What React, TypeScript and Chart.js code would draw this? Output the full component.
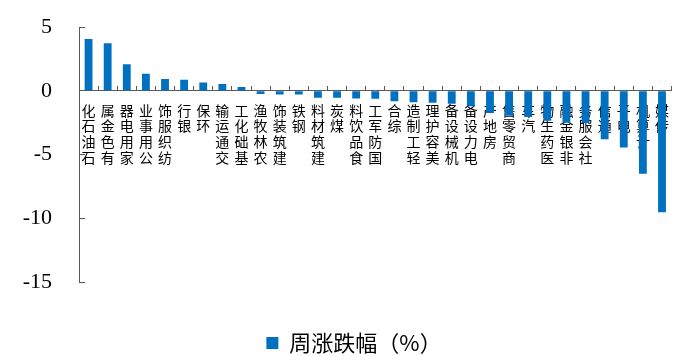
import React, { useEffect, useRef } from "react";
import { Chart, registerables } from "chart.js";

Chart.register(...registerables);

const categories: string[] = [
  "石油石化", "有色金属", "家用电器", "公用事业", "纺织服饰", "银行", "环保", "交通运输",
  "基础化工", "农林牧渔", "建筑装饰", "钢铁", "建筑材料", "煤炭", "食品饮料", "国防军工",
  "综合", "轻工制造", "美容护理", "机械设备", "电力设备", "房地产", "商贸零售", "汽车",
  "医药生物", "非银金融", "社会服务", "通信", "电子", "计算机", "传媒",
];

const weeklyChange: number[] = [
  4.06, 3.72, 2.08, 1.33, 0.93, 0.86, 0.65, 0.53,
  0.3, -0.25, -0.29, -0.29, -0.55, -0.55, -0.6, -0.63,
  -0.83, -0.9, -0.95, -1.01, -1.22, -1.74, -1.97, -2.06,
  -2.35, -2.5, -2.52, -3.8, -4.46, -6.5, -9.53,
];

const seriesName = "周涨跌幅（%）";
const yTicks: number[] = [5, 0, -5, -10, -15];

const BLUE = "#0070C0";
const AXIS = "#595959";

export default function App() {
  const ref = useRef<HTMLCanvasElement | null>(null);

  useEffect(() => {
    if (!ref.current) return;
    const chart = new Chart(ref.current, {
      type: "bar",
      data: {
        labels: categories,
        datasets: [
          {
            label: seriesName,
            data: weeklyChange,
            backgroundColor: BLUE,
            borderWidth: 0,
            barPercentage: 0.41,
            categoryPercentage: 1,
          },
        ],
      },
      options: {
        responsive: false,
        animation: false,
        devicePixelRatio: 1,
        layout: { padding: { top: 27, left: 22, right: 0, bottom: 0 } },
        plugins: {
          tooltip: { enabled: false },
          legend: {
            display: true,
            position: "bottom",
            labels: {
              color: "#000",
              boxWidth: 12,
              boxHeight: 12,
              padding: 50,
              font: { family: "'Noto Sans CJK SC', sans-serif", size: 22 },
            },
          },
        },
        scales: {
          x: {
            type: "category",
            position: { y: 0 } as any,
            border: { display: true, color: AXIS, width: 1 },
            grid: {
              display: true,
              offset: true,
              drawOnChartArea: false,
              drawTicks: true,
              tickLength: -5,
              color: AXIS,
            },
            ticks: {
              autoSkip: false,
              maxRotation: 0,
              minRotation: 0,
              padding: 17,
              color: "#000",
              font: { family: "'Noto Sans CJK SC', sans-serif", size: 14, lineHeight: "15.6px" },
              callback: (_v: any, i: number) => categories[i].split("").reverse(),
            },
          },
          y: {
            min: -15,
            max: 5,
            position: "left",
            afterFit: (s: any) => {
              s.width = 57;
              s.paddingTop = 0;
              s.paddingBottom = 0;
            },
            afterBuildTicks: (s: any) => {
              s.ticks = yTicks.map((v) => ({ value: v }));
            },
            border: { display: true, color: AXIS, width: 1 },
            grid: {
              display: true,
              drawOnChartArea: false,
              drawTicks: true,
              tickLength: -6,
              color: AXIS,
            },
            ticks: {
              padding: 33,
              color: "#000",
              font: { family: "'Liberation Serif', 'Times New Roman', serif", size: 22 },
            },
          },
        },
      },
    });
    return () => chart.destroy();
  }, []);

  return (
    <div
      style={{
        position: "fixed",
        left: 0,
        top: 0,
        width: 679,
        height: 356,
        overflow: "hidden",
        background: "#fff",
      }}
    >
      <canvas ref={ref} width={686} height={364} style={{ display: "block" }} />
    </div>
  );
}
